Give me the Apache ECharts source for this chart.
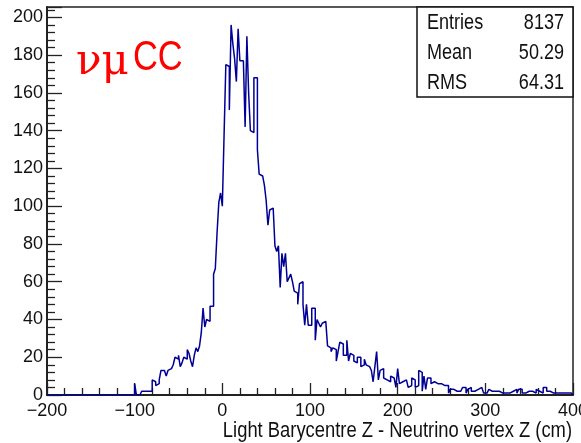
<!DOCTYPE html>
<html><head><meta charset="utf-8">
<script src="https://cdn.jsdelivr.net/npm/echarts@6/dist/echarts.min.js"></script>
<style>html,body{margin:0;padding:0;background:#fff}#c{width:581px;height:443px}</style>
</head><body><div id="c"></div>
<script>
// ---- data (histogram: 300 bins of width 2 from -200 to 400) ----
const binStart = -200;
const binWidth = 2;
const counts = [
  0,0,0,0,0,0,0,0,0,0,
  0,0,0,0,0,0,0,0,0,0,
  0,0,0,0,1,0,1,0,1,0,
  0,0,0,0,0,0,0,0,1,0,
  1,0,0,0,0,0,0,0,1,0,
  6,0,0,1,2,2,1,2,3,2,
  8,7,5,6,8,13,13,12,10,13,
  14,15,16,20,19,21,15,17,20,19,
  24,22,18,15,21,25,23,26,33,46,
  36,40,39,47,47,64,67,86,102,107,
  100,138,175,174,151,196,186,178,166,194,
  177,177,177,142,190,160,140,139,168,168,
  130,117,116,116,111,103,90,98,99,98,
  79,76,79,57,75,68,75,60,62,64,
  60,55,54,48,59,60,48,37,48,37,
  37,46,46,29,40,38,36,38,39,39,
  26,25,23,25,24,18,23,28,27,21,
  21,29,18,22,21,18,17,20,20,15,
  16,19,16,15,16,13,7,15,23,8,
  13,14,9,8,8,7,10,9,10,4,
  14,6,7,7,8,8,4,5,9,8,
  4,5,13,12,2,10,3,9,9,6,
  7,7,6,6,6,5,5,5,5,1,
  3,3,2,2,3,2,2,4,4,1,
  3,4,2,2,3,3,2,4,5,1,
  1,1,3,2,2,2,2,2,2,1,
  1,1,1,1,1,2,2,3,1,3,
  3,1,1,2,2,2,2,1,1,3,
  2,2,1,4,4,2,2,1,1,2,
  1,1,1,1,1,1,1,1,1,0
];
const xMin = -200, xMax = 400, xStep = 100;
const yMin = 0, yMax = 205.5, yStep = 20;
const statsLabels = ['Entries', 'Mean', 'RMS'];
const statsValues = ['8137', '50.29', '64.31'];
const xTitle = 'Light Barycentre Z - Neutrino vertex Z (cm)';
const tagGreek = 'νμ';
const tagText = 'CC';

// ---- build step outline from bins ----
const histData = [];
counts.forEach((c, i) => {
  const lo = binStart + i * binWidth;
  histData.push([lo, c]);
  histData.push([lo + binWidth, c]);
});

const FONT = '"Liberation Sans", Arial, sans-serif';
const AX = '#222';
const NARROW = 0.82;

const statsGraphics = [];
statsLabels.forEach((lab, i) => {
  statsGraphics.push({type:'text', x:427, y:23 + i*30, scaleX:NARROW,
    style:{text:lab, fontFamily:FONT, fontSize:22, fill:'#111', align:'left', verticalAlign:'middle'}});
  statsGraphics.push({type:'text', x:564, y:23 + i*30, scaleX:NARROW,
    style:{text:statsValues[i], fontFamily:FONT, fontSize:22, fill:'#111', align:'right', verticalAlign:'middle'}});
});

const chart = echarts.init(document.getElementById('c'), null, {renderer:'canvas'});
chart.setOption({
  animation:false,
  backgroundColor:'#fff',
  grid:{left:47, right:8, top:7, bottom:48, show:true, borderColor:AX, borderWidth:1.5,
        backgroundColor:'transparent', containLabel:false, outerBoundsMode:'none'},
  xAxis:{type:'value', min:xMin, max:xMax, interval:xStep,
    axisLine:{show:true, onZero:false, lineStyle:{color:AX, width:2}},
    axisTick:{show:true, inside:true, length:12, lineStyle:{color:AX, width:1.3}},
    minorTick:{show:true, splitNumber:5, length:7, lineStyle:{color:AX, width:1.3}},
    splitLine:{show:false}, minorSplitLine:{show:false},
    axisLabel:{fontFamily:FONT, fontSize:18, color:'#111', margin:7, hideOverlap:false,
      showMinLabel:true, showMaxLabel:true,
      formatter:v => String(v).replace('-', '\u2212')}},
  yAxis:{type:'value', min:yMin, max:yMax, interval:yStep,
    axisLine:{show:true, onZero:false, lineStyle:{color:AX, width:2}},
    axisTick:{show:true, inside:true, length:15, lineStyle:{color:AX, width:1.3}},
    minorTick:{show:true, splitNumber:5, length:8, lineStyle:{color:AX, width:1.3}},
    splitLine:{show:false}, minorSplitLine:{show:false},
    axisLabel:{fontFamily:FONT, fontSize:18, color:'#111', margin:4, hideOverlap:false,
      formatter:v => (Math.abs(v % yStep) < 1e-9 ? String(v) : '')}},
  series:[{type:'line', data:histData, symbol:'none', silent:true,
    lineStyle:{color:'#000096', width:1.5}, clip:true}],
  graphic:[
    {type:'rect', shape:{x:417, y:7, width:156, height:90},
      style:{fill:'#fff', stroke:'#111', lineWidth:1.5}, z:100},
    ...statsGraphics.map(g => Object.assign(g, {z:101})),
    {type:'text', x:76, y:63, z:101,
      style:{text:tagGreek, fontFamily:'"DejaVu Serif", serif', fontSize:42, fill:'#ff0000', verticalAlign:'middle'}},
    {type:'text', x:133, y:58, z:101, scaleX:0.8,
      style:{text:tagText, fontFamily:FONT, fontSize:43, fill:'#ff0000', verticalAlign:'middle'}},
    {type:'text', x:572, y:431, z:101, scaleX:0.835,
      style:{text:xTitle, fontFamily:FONT, fontSize:22, fill:'#111', align:'right', verticalAlign:'middle'}}
  ]
});
</script></body></html>
